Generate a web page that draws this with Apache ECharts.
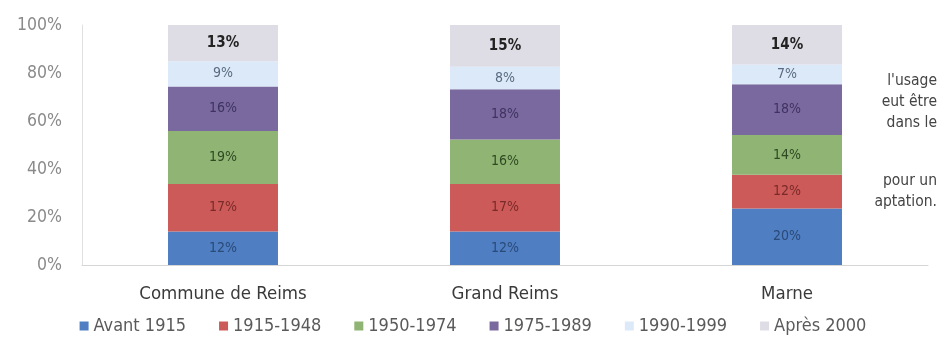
<!DOCTYPE html>
<html>
<head>
<meta charset="utf-8">
<script src="https://cdn.jsdelivr.net/npm/echarts@6/dist/echarts.min.js"></script>
<style>
  html, body { margin: 0; padding: 0; background: #fff; }
  #chart { width: 946px; height: 346px; }
</style>
</head>
<body>
<div id="chart"></div>
<script>
const categories = ['Commune de Reims', 'Grand Reims', 'Marne']
const periods = ['Avant 1915', '1915-1948', '1950-1974', '1975-1989', '1990-1999', 'Après 2000']
// shares per period, one value per category (as printed on the bars)
const avant1915 = [12, 12, 20]
const p1915_1948 = [17, 17, 12]
const p1950_1974 = [19, 16, 14]
const p1975_1989 = [16, 18, 18]
const p1990_1999 = [9, 8, 7]
const apres2000 = [13, 15, 14]
const yTicks = [0, 20, 40, 60, 80, 100]

const values = [avant1915, p1915_1948, p1950_1974, p1975_1989, p1990_1999, apres2000]
const colors = ['#4f7ec2', '#cc5a58', '#8fb474', '#7a699e', '#dce9f8', '#dedde6']
const labelColors = ['#2a4a78', '#7a2a2a', '#2f4a22', '#3e3360', '#5a6a80', '#222']
const labelBold = [false, false, false, false, false, true]

// 100% stacked: heights are normalised, labels keep the raw values
const totals = categories.map((_, i) => values.reduce((s, arr) => s + arr[i], 0))

const font = "'Liberation Sans Narrow', 'DejaVu Sans Condensed', 'Open Sans', sans-serif"

const series = periods.map((name, k) => ({
  name, type: 'bar', stack: 'all', barWidth: '39%',
  itemStyle: { color: colors[k] },
  data: values[k].map((v, i) => ({ value: v / totals[i] * 100, raw: v })),
  label: {
    show: true, position: 'inside', fontSize: labelBold[k] ? 15 : 14, fontFamily: font,
    color: labelColors[k], fontWeight: labelBold[k] ? 'bold' : 'normal',
    formatter: p => p.data.raw + '%'
  },
  emphasis: { disabled: true }
}))

const sideText = [
  { t: "l'usage", y: 82 }, { t: 'eut être', y: 103 }, { t: 'dans le', y: 124 },
  { t: 'pour un', y: 182 }, { t: 'aptation.', y: 203 }
]

const chart = echarts.init(document.getElementById('chart'))
chart.setOption({
  animation: false,
  grid: { left: 82, right: 18, top: 25, bottom: 81 },
  legend: {
    bottom: 6, left: 'center', itemWidth: 9, itemHeight: 9, itemGap: 33,
    icon: 'rect', textStyle: { fontSize: 18, color: '#5a5a5a', fontFamily: font },
    data: periods
  },
  xAxis: {
    type: 'category', data: categories,
    axisLine: { lineStyle: { color: '#d6d6d6' } },
    axisTick: { show: false },
    axisLabel: { fontSize: 18.5, color: '#3a3a3a', margin: 20, fontFamily: font }
  },
  yAxis: {
    type: 'value', min: 0, max: 100, interval: 20,
    axisLine: { show: true, lineStyle: { color: '#e0e0e0' } },
    splitLine: { show: false },
    axisLabel: { fontSize: 17.5, color: '#8a8a8a', margin: 20, fontFamily: font,
      formatter: v => yTicks.includes(v) ? v + '%' : '' }
  },
  graphic: sideText.map(s => ({
    type: 'text', right: 9, top: s.y - 9,
    style: { text: s.t, fontSize: 15.5, fill: '#444', fontFamily: font }
  })),
  series
})
</script>
</body>
</html>
